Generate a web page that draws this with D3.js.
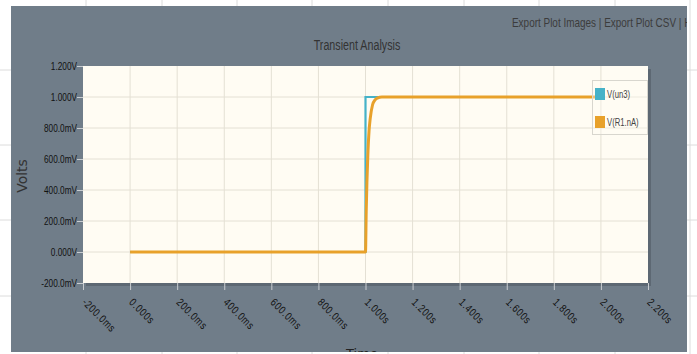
<!DOCTYPE html>
<html><head><meta charset="utf-8">
<script src="https://cdn.jsdelivr.net/npm/d3@7"></script>
<style>
html,body{margin:0;padding:0;background:#fff;}
svg{display:block;}
</style></head>
<body>
<svg id="c" width="697" height="354"></svg>
<script>
// ---- data ----
const xTicks = [-0.2,0,0.2,0.4,0.6,0.8,1.0,1.2,1.4,1.6,1.8,2.0,2.2];
const xTickLabels = ["-200.0ms","0.000s","200.0ms","400.0ms","600.0ms","800.0ms","1.000s","1.200s","1.400s","1.600s","1.800s","2.000s","2.200s"];
const yTicks = [-0.2,0,0.2,0.4,0.6,0.8,1.0,1.2];
const yTickLabels = ["-200.0mV","0.000V","200.0mV","400.0mV","600.0mV","800.0mV","1.000V","1.200V"];
const seriesNames = ["V(un3)","V(R1.nA)"];
const un3T = [0, 1.0, 1.0, 2.0];
const un3V = [0, 0, 1.0, 1.0];
const r1T = [0, 1.0, 1.003, 1.006, 1.01, 1.015, 1.02, 1.03, 1.04, 1.05, 1.07, 1.1, 2.0];
const r1V = [0, 0, 0.26, 0.45, 0.63, 0.78, 0.86, 0.95, 0.98, 0.993, 1.0, 1.0, 1.0];

const font = "'Liberation Sans',Arial,sans-serif";
const svg = d3.select("#c");

// condensed text helper: scale horizontally around (x,y)
function cond(sel, x, y, s){
  sel.attr("transform",`translate(${x},${y}) scale(${s},1) translate(${-x},${-y})`);
}

// background page grid
const pageV = [86,162,237,312,388,464,539,615,690];
const pageH = [70,145,220,296];
svg.selectAll(".pv").data(pageV).enter().append("line")
  .attr("x1",d=>d).attr("x2",d=>d).attr("y1",0).attr("y2",354).attr("stroke","#dcdcdc");
svg.selectAll(".ph").data(pageH).enter().append("line")
  .attr("y1",d=>d).attr("y2",d=>d).attr("x1",0).attr("x2",697).attr("stroke","#dcdcdc");

// panel
const P = {x:11, y:6, w:676, h:346};
svg.append("defs").append("clipPath").attr("id","pc").append("rect")
  .attr("x",P.x).attr("y",P.y).attr("width",P.w).attr("height",P.h);
const g = svg.append("g").attr("clip-path","url(#pc)");
g.append("rect").attr("x",P.x).attr("y",P.y).attr("width",P.w).attr("height",P.h).attr("fill","#707d89");

const L=83, R=648, T=66, B=283;
const x = d3.scaleLinear().domain([-0.2,2.2]).range([L,R]);
const y = d3.scaleLinear().domain([-0.2,1.2]).range([B,T]);

// shadow + plot bg
g.append("rect").attr("x",L+3).attr("y",T+3).attr("width",R-L).attr("height",B-T).attr("fill","#5d6873");
g.append("rect").attr("x",L).attr("y",T).attr("width",R-L).attr("height",B-T).attr("fill","#fffcf3");

// grid
g.append("g").selectAll("line").data(xTicks.slice(1,-1)).enter().append("line")
  .attr("x1",d=>x(d)).attr("x2",d=>x(d)).attr("y1",T).attr("y2",B).attr("stroke","#e4e0d4");
g.append("g").selectAll("line").data(yTicks.slice(1,-1)).enter().append("line")
  .attr("y1",d=>y(d)).attr("y2",d=>y(d)).attr("x1",L).attr("x2",R).attr("stroke","#e4e0d4");

// axes
const xAxis = d3.axisBottom(x).tickValues(xTicks).tickSize(7).tickFormat((d,i)=>xTickLabels[i]);
const xa = g.append("g").attr("transform",`translate(0,${B})`).call(xAxis);
xa.select(".domain").remove();
xa.selectAll(".tick line").attr("stroke","#c8ccd0");
xa.selectAll(".tick text").attr("fill","#111").attr("font-family",font).attr("font-size",11)
  .attr("letter-spacing",0.9)
  .attr("text-anchor","start").attr("x",0).attr("y",0).attr("dy",0)
  .attr("transform","translate(-2,20) rotate(45) scale(0.8,1)");

const yAxis = d3.axisLeft(y).tickValues(yTicks).tickSize(6).tickPadding(0).tickFormat((d,i)=>yTickLabels[i]);
const ya = g.append("g").attr("transform",`translate(${L},0)`).call(yAxis);
ya.select(".domain").remove();
ya.selectAll(".tick line").attr("stroke","#c8ccd0");
ya.selectAll(".tick text").attr("fill","#111").attr("font-family",font).attr("font-size",11)
  .attr("x",-6/0.75).attr("dy","0.35em").attr("transform","scale(0.75,1)");

// lines
const line = d3.line().x(d=>x(d[0])).y(d=>y(d[1]));
const lineC = d3.line().x(d=>x(d[0])).y(d=>y(d[1])).curve(d3.curveMonotoneX);
g.append("path").datum(un3T.map((t,i)=>[t,un3V[i]])).attr("d",line)
  .attr("fill","none").attr("stroke","#45b2c8").attr("stroke-width",2.2);
g.append("path").datum(r1T.map((t,i)=>[t,r1V[i]])).attr("d",lineC)
  .attr("fill","none").attr("stroke","#e8a12a").attr("stroke-width",3).attr("stroke-linejoin","round");

// legend
const colors = ["#45b2c8","#e8a12a"];
const lg = g.append("g");
lg.append("rect").attr("x",592.5).attr("y",80.5).attr("width",55).attr("height",54)
  .attr("fill","rgba(255,252,243,0.35)").attr("stroke","#d8d6ce");
seriesNames.forEach((n,i)=>{
  const yy = 88 + i*28;
  lg.append("rect").attr("x",595).attr("y",yy).attr("width",10).attr("height",12).attr("fill",colors[i]);
  const t = lg.append("text").attr("x",607).attr("y",yy+10).attr("font-family",font).attr("font-size",11)
    .attr("fill","#444").text(n);
  cond(t,607,yy+10,0.7);
});

// texts
const title = g.append("text").attr("x",357).attr("y",50).attr("text-anchor","middle").attr("font-family",font)
  .attr("font-size",14.5).attr("fill","#333").text("Transient Analysis");
cond(title,357,50,0.74);
const ex = g.append("text").attr("x",512).attr("y",27).attr("font-family",font)
  .attr("font-size",12).attr("fill","#3c3c3c").text("Export Plot Images | Export Plot CSV | Help");
cond(ex,512,27,0.83);
g.append("text").attr("transform","translate(27,176) rotate(-90)").attr("text-anchor","middle")
  .attr("font-family","'DejaVu Sans',sans-serif").attr("font-size",14).attr("fill","#333").text("Volts");
g.append("text").attr("x",362).attr("y",358).attr("text-anchor","middle").attr("font-family","'DejaVu Sans',sans-serif")
  .attr("font-size",13).attr("fill","#222").text("Time");
</script>
</body></html>
